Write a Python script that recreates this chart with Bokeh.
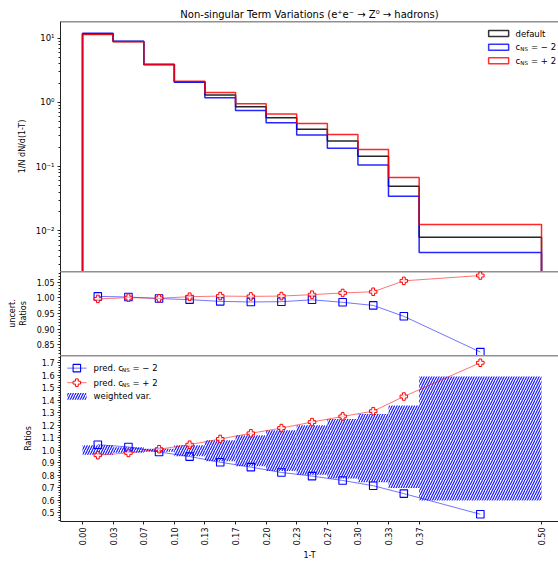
import math
from bokeh.plotting import figure
from bokeh.models import (Range1d, FixedTicker, LogTicker, CustomJSTickFormatter,
                          NumeralTickFormatter, Span)
from bokeh.layouts import column
from bokeh.embed import file_html
from bokeh.resources import INLINE
from bokeh.core.properties import value

# ---------------- data ----------------
edges = [0.0, 0.0333, 0.0667, 0.1, 0.1333, 0.1667, 0.2, 0.2333, 0.2667, 0.3, 0.3333, 0.3667, 0.5]
centres = [(a + b) / 2 for a, b in zip(edges[:-1], edges[1:])]

hist_default = [11.6, 8.9, 3.9, 2.1, 1.30, 0.857, 0.578, 0.380, 0.250, 0.1445, 0.0494, 0.00796]
hist_m2 = [11.96, 8.98, 3.90, 2.05, 1.18, 0.75, 0.483, 0.31, 0.193, 0.106, 0.0345, 0.0046]
hist_p2 = [11.4, 8.8, 3.90, 2.14, 1.42, 0.955, 0.658, 0.467, 0.315, 0.184, 0.0675, 0.01253]

unc_m2 = [1.005, 1.003, 0.998, 0.9945, 0.989, 0.987, 0.988, 0.994, 0.986, 0.976, 0.941, 0.826]
unc_p2 = [0.997, 1.001, 0.999, 1.004, 1.006, 1.005, 1.006, 1.0106, 1.016, 1.020, 1.055, 1.072]

rat_m2 = [1.045, 1.027, 0.987, 0.950, 0.905, 0.866, 0.823, 0.794, 0.759, 0.717, 0.654, 0.489]
rat_p2 = [0.961, 0.979, 1.009, 1.045, 1.091, 1.136, 1.178, 1.226, 1.271, 1.313, 1.430, 1.700]

band_lo = [0.965, 0.980, 0.988, 0.953, 0.912, 0.872, 0.835, 0.805, 0.775, 0.745, 0.699, 0.599]
band_hi = [1.040, 1.025, 1.012, 1.040, 1.080, 1.120, 1.160, 1.200, 1.250, 1.290, 1.358, 1.590]

x_tick_labels = ["0.00", "0.03", "0.07", "0.10", "0.13", "0.17", "0.20", "0.23",
                 "0.27", "0.30", "0.33", "0.37", "0.50"]

FONT = "DejaVu Sans"
AX = "#222222"
XR = (-0.024, 0.5185)
W = 558
BL = 60


def steps(edg, vals, bottom):
    xs, ys = [edg[0]], [bottom]
    for i, v in enumerate(vals):
        xs += [edg[i], edg[i + 1]]
        ys += [v, v]
    xs.append(edg[-1])
    ys.append(bottom)
    return xs, ys


def style(p):
    p.grid.visible = False
    p.outline_line_color = None
    p.background_fill_color = "white"
    p.border_fill_color = "white"
    for ax in p.axis:
        ax.axis_line_color = AX
        ax.major_tick_line_color = AX
        ax.minor_tick_line_color = AX
        ax.major_tick_out = 3
        ax.major_tick_in = 0
        ax.minor_tick_out = 2
        ax.minor_tick_in = 0
        ax.major_label_text_font = FONT
        ax.major_label_text_font_size = "8px"
        ax.major_label_text_color = "black"
        ax.axis_label_text_font = FONT
        ax.axis_label_text_font_size = "8px"
        ax.axis_label_text_font_style = "normal"
        ax.axis_label_text_color = "black"
        ax.major_label_standoff = 3
        ax.axis_label_standoff = 6


def add_markers(p, ym, yp):
    p.line(centres, ym, line_color="blue", line_alpha=0.55, line_width=1)
    p.scatter(centres, ym, marker="square", size=7.5, line_color="blue",
              fill_color=None, line_width=1.1)
    p.line(centres, yp, line_color="red", line_alpha=0.55, line_width=1)
    p.scatter(centres, yp, marker="plus", size=7.5, line_color="red",
              fill_color="white", fill_alpha=0.6, line_width=1)


# ---------------- top panel ----------------
YB = 0.00232
YT = 18.2
p1 = figure(width=W, height=271, y_axis_type="log",
            x_range=Range1d(*XR), y_range=Range1d(YB, YT),
            output_backend="svg", toolbar_location=None,
            min_border_left=BL, min_border_right=0, min_border_top=21, min_border_bottom=0,
            title="Non-singular Term Variations (e\u207ae\u207b \u2192 Z\u2070 \u2192 hadrons)")
style(p1)
p1.title.text_font = FONT
p1.title.text_font_size = "10px"
p1.title.text_font_style = "normal"
p1.title.text_color = "black"
p1.title.align = "center"
p1.title.standoff = 4
p1.title.offset = 0
p1.xaxis.visible = False
p1.yaxis.ticker = LogTicker(num_minor_ticks=10)
p1.yaxis.formatter = CustomJSTickFormatter(code="""
const sup = {'-':'\u207b','0':'\u2070','1':'\u00b9','2':'\u00b2','3':'\u00b3','4':'\u2074'};
const e = Math.round(Math.log10(tick));
return '10' + String(e).split('').map(c => sup[c]).join('');
""")
p1.yaxis.major_label_text_font_size = "8.5px"
p1.yaxis.axis_label = "1/N dN/d(1-T)"

for vals, col in [(hist_default, "black"), (hist_m2, "blue"), (hist_p2, "red")]:
    xs, ys = steps(edges, vals, 1e-4)
    p1.line(xs, ys, line_color=col, line_width=1.5, line_alpha=0.85)

p1.add_layout(Span(location=YT, dimension="width", line_color=AX, line_width=1.5))

# legend (top)
leg_y = [11.8, 7.24, 4.46]
leg_c = ["black", "blue", "red"]
p1.rect(x=[0.4533] * 3, y=leg_y, width=0.0218, height=6, height_units="screen",
        fill_color=None, line_color=leg_c, line_width=1.5, line_alpha=0.8)
p1.text(x=[0.4717], y=[leg_y[0]], text=["default"], text_font=value(FONT),
        text_font_size="8.5px", text_baseline="middle", text_color="black")
p1.text(x=[0.4717] * 2, y=leg_y[1:], text=["c", "c"], text_font=value(FONT),
        text_font_size="8.5px", text_baseline="middle", text_color="black")
p1.text(x=[0.4717] * 2, y=leg_y[1:], text=["NS", "NS"], text_font=value(FONT),
        text_font_size="5.5px", text_baseline="middle", text_color="black",
        x_offset=4.8, y_offset=2)
p1.text(x=[0.4717] * 2, y=leg_y[1:], text=["= \u2212 2", "= + 2"], text_font=value(FONT),
        text_font_size="8.5px", text_baseline="middle", text_color="black",
        x_offset=15.5)

# ---------------- middle panel ----------------
UT = 1.085
p2 = figure(width=W, height=84, x_range=p1.x_range, y_range=Range1d(0.815, UT),
            output_backend="svg", toolbar_location=None,
            min_border_left=BL, min_border_right=0, min_border_top=0, min_border_bottom=0)
style(p2)
p2.xaxis.visible = False
p2.yaxis.ticker = FixedTicker(ticks=[0.85, 0.90, 0.95, 1.00, 1.05],
                              minor_ticks=[0.82 + 0.01 * i for i in range(27)])
p2.yaxis.formatter = NumeralTickFormatter(format="0.00")
p2.yaxis.axis_label = "uncert.\nRatios"
p2.add_layout(Span(location=UT, dimension="width", line_color=AX, line_width=1.5))
add_markers(p2, unc_m2, unc_p2)

# ---------------- bottom panel ----------------
RT = 1.758
p3 = figure(width=W, height=208, x_range=p1.x_range, y_range=Range1d(0.431, RT),
            output_backend="svg", toolbar_location=None,
            min_border_left=BL, min_border_right=0, min_border_top=0, min_border_bottom=41)
style(p3)
p3.yaxis.ticker = FixedTicker(ticks=[0.5 + 0.1 * i for i in range(13)],
                              minor_ticks=[0.44 + 0.02 * i for i in range(66)])
p3.yaxis.formatter = NumeralTickFormatter(format="0.0")
p3.yaxis.axis_label = "Ratios"
p3.xaxis.ticker = FixedTicker(ticks=edges)
p3.xaxis.major_label_overrides = {e: l for e, l in zip(edges, x_tick_labels)}
p3.xaxis.major_label_orientation = math.pi / 2
p3.xaxis.axis_label = "1-T"
p3.xaxis.axis_label_standoff = 3
p3.add_layout(Span(location=RT, dimension="width", line_color=AX, line_width=1.5))

p3.quad(left=edges[:-1], right=edges[1:], bottom=band_lo, top=band_hi,
        fill_alpha=0, line_color=None, hatch_pattern="/", hatch_color="blue",
        hatch_scale=5, hatch_weight=1.2, hatch_alpha=0.9)
add_markers(p3, rat_m2, rat_p2)

# legend (bottom)
lx0, lx1, lxm, ltx = -0.0167, 0.0044, -0.0062, 0.012
ly = [1.657, 1.541, 1.432]
p3.line([lx0, lx1], [ly[0], ly[0]], line_color="blue", line_alpha=0.55, line_width=1)
p3.scatter([lxm], [ly[0]], marker="square", size=7.5, line_color="blue", fill_color=None, line_width=1.1)
p3.line([lx0, lx1], [ly[1], ly[1]], line_color="red", line_alpha=0.55, line_width=1)
p3.scatter([lxm], [ly[1]], marker="plus", size=7.5, line_color="red", fill_color="white", line_width=1)
p3.quad(left=[lx0], right=[lx1], bottom=[ly[2] - 0.027], top=[ly[2] + 0.027],
        fill_alpha=0, line_color=None, hatch_pattern="/", hatch_color="blue",
        hatch_scale=5, hatch_weight=1.2, hatch_alpha=0.9)
p3.text(x=[ltx] * 3, y=ly, text=["pred. c", "pred. c", "weighted var."], text_font=value(FONT),
        text_font_size="8.5px", text_baseline="middle", text_color="black")
p3.text(x=[ltx] * 2, y=ly[:2], text=["NS", "NS"], text_font=value(FONT),
        text_font_size="5.5px", text_baseline="middle", text_color="black",
        x_offset=28.5, y_offset=2)
p3.text(x=[ltx] * 2, y=ly[:2], text=["= \u2212 2", "= + 2"], text_font=value(FONT),
        text_font_size="8.5px", text_baseline="middle", text_color="black",
        x_offset=39)

layout = column(p1, p2, p3, spacing=0)
open("out.html", "w").write(file_html(layout, INLINE))
